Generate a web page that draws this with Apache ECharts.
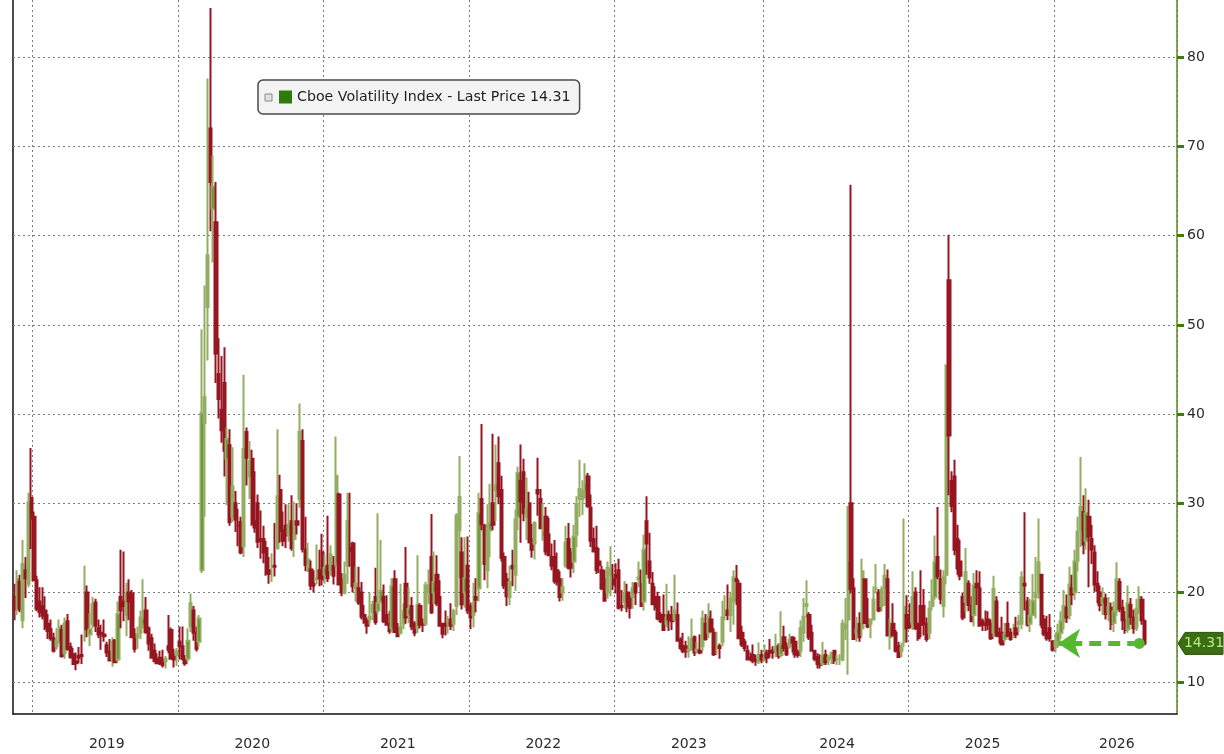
<!DOCTYPE html>
<html><head><meta charset="utf-8">
<script src="https://cdn.jsdelivr.net/npm/echarts@6/dist/echarts.min.js"></script>
<style>html,body{margin:0;padding:0;background:#fff}#c{width:1224px;height:754px}</style>
</head><body><div id="c"></div>
<script>
// ---------- data (weekly candles: [open, close, low, high]) ----------
const seriesName = 'Cboe Volatility Index - Last Price 14.31';
const lastPrice = 14.31;
const startMonday = [2018, 10, 12];   // first weekly candle (UTC y, m0, d)
const axisWeeks = 416;                // weekly slots on the category axis
const yearLabels = ['2019','2020','2021','2022','2023','2024','2025','2026'];
const yTickValues = [10,20,30,40,50,60,70,80];

const vix2018 = [[19.5,18.1,16.9,21.0],[18.3,21.5,17.5,22.5],[21.2,18.1,17.8,22.0],[16.9,23.2,16.0,25.9],[22.5,21.6,19.4,24.0],[21.0,30.1,20.6,31.2],[30.6,28.3,24.9,36.2],[28.5,21.4,21.3,29.1]];
const vix2019 = [[21.4,18.2,17.9,21.9],[19.0,17.8,17.2,20.6],[18.5,17.4,17.0,20.6],[18.0,16.1,15.8,19.6],[16.5,15.7,14.8,17.6],[15.9,14.9,14.6,17.0],[14.9,13.5,13.3,15.5],[14.0,14.6,13.6,16.0],[14.7,16.1,14.3,17.0],[15.8,12.9,12.7,16.4],[13.2,16.5,12.6,17.2],[16.8,13.7,13.5,17.6],[13.9,12.8,12.6,14.4],[13.1,12.0,11.9,13.8],[12.3,12.1,11.3,13.3],[12.9,12.7,12.1,13.9],[13.0,12.9,12.0,15.3],[16.0,16.0,14.5,23.0],[20.0,15.9,15.0,20.8],[15.3,15.9,14.0,17.7],[16.5,18.7,16.0,19.5],[18.9,16.3,15.6,19.3],[16.0,15.3,14.9,17.0],[15.5,15.4,13.6,16.4],[15.3,15.1,14.5,17.0],[14.1,13.3,12.8,14.5],[13.4,12.4,12.3,14.8],[12.6,14.5,11.7,15.0],[14.6,12.2,12.1,14.8],[12.5,17.6,12.2,19.0],[19.5,18.0,16.0,24.8],[19.0,18.5,16.8,24.6],[17.5,19.9,15.1,21.1],[20.0,19.0,16.9,21.5],[19.9,15.0,14.9,20.3],[15.3,13.7,13.3,16.0],[15.0,15.3,13.7,16.2],[15.5,17.2,14.8,18.0],[16.5,17.0,16.0,21.5],[18.0,15.6,15.4,19.5],[16.0,14.3,13.5,16.2],[14.9,12.7,12.6,15.4],[13.5,12.3,12.2,14.3],[12.5,12.1,12.0,13.2],[12.7,12.1,11.9,13.5],[12.5,11.9,11.6,13.6],[12.3,12.6,11.5,12.9],[14.0,13.6,13.2,17.5],[15.8,12.6,12.5,16.1],[13.0,12.5,11.6,13.7],[13.0,13.4,11.8,13.8],[14.5,14.0,12.5,16.2]];
const vix2020 = [[14.0,12.6,12.4,16.2],[12.5,12.1,11.8,13.0],[12.6,14.6,12.2,16.0],[16.2,18.8,15.6,19.9],[18.0,15.5,14.6,18.5],[15.5,13.7,13.4,16.2],[14.5,17.1,13.9,17.5],[22.5,40.1,22.2,49.5],[39.0,41.9,28.5,54.4],[52.0,57.8,46.0,77.6],[72.0,66.0,60.5,85.5],[63.0,65.5,57.0,69.0],[61.5,46.8,43.5,66.0],[44.5,41.7,39.5,48.5],[40.5,38.2,36.8,46.5],[43.5,35.9,33.0,47.5],[35.0,37.2,29.8,38.5],[36.5,27.9,27.5,38.3],[28.5,31.9,27.9,36.3],[30.0,28.2,26.8,31.4],[27.5,27.5,25.2,29.4],[27.9,24.5,24.3,28.5],[25.2,36.1,24.0,44.4],[38.0,35.1,32.0,38.5],[33.0,34.7,30.5,37.0],[35.0,27.7,27.5,36.0],[28.0,27.3,26.7,33.6],[30.0,25.7,25.0,31.0],[26.0,25.8,23.8,29.2],[26.0,24.5,23.3,27.5],[25.0,22.2,21.9,25.8],[22.5,22.1,21.0,24.0],[22.5,22.5,21.2,24.4],[23.0,22.9,21.8,27.8],[25.0,30.8,24.8,38.3],[31.5,26.9,25.6,33.2],[27.0,25.8,25.2,29.1],[27.5,26.4,25.0,29.9],[26.5,27.6,25.7,29.9],[28.0,25.0,24.7,30.9],[26.0,27.4,24.0,30.2],[28.0,27.6,26.5,30.0],[30.5,38.0,29.5,41.2],[37.0,24.9,24.5,38.3],[24.8,23.1,22.4,28.5],[22.5,23.7,22.3,25.6],[22.6,20.8,20.3,23.6],[21.0,20.8,20.0,22.5],[21.5,21.6,20.9,25.4],[22.5,21.6,20.7,24.8],[24.5,21.5,20.8,26.6],[22.0,22.8,21.0,24.3]];
const vix2021 = [[23.0,21.6,21.2,28.6],[22.5,24.3,21.9,25.3],[23.0,21.9,20.9,24.1],[23.5,33.1,22.9,37.5],[31.0,20.9,20.8,31.2],[21.5,20.0,19.6,22.2],[20.0,22.0,19.8,23.5],[23.0,28.0,21.0,31.2],[25.0,24.7,22.9,31.2],[25.5,20.7,20.0,25.7],[20.5,21.0,19.0,22.9],[20.5,18.9,18.6,22.9],[20.0,17.3,17.0,21.2],[17.5,16.7,16.5,18.6],[16.9,16.3,15.4,17.2],[17.0,17.3,16.4,20.0],[17.8,18.6,16.9,19.1],[19.5,16.7,16.4,22.8],[18.0,18.8,17.6,28.9],[19.0,20.2,18.8,25.9],[19.5,16.8,16.6,20.9],[17.5,16.4,16.3,19.7],[16.5,15.7,15.4,17.9],[16.0,20.7,15.5,21.6],[21.5,15.6,15.5,22.5],[16.0,15.1,15.0,16.6],[15.5,16.2,15.3,21.0],[16.5,17.9,15.9,18.8],[21.0,17.2,16.5,25.1],[17.5,18.2,16.6,20.6],[18.5,16.2,15.8,19.5],[16.5,15.5,15.1,16.8],[16.0,18.6,15.5,24.2],[18.5,16.4,16.0,18.8],[16.5,16.4,15.6,17.1],[16.5,20.8,16.3,21.2],[20.0,20.8,18.7,22.6],[24.0,17.8,17.6,28.8],[20.0,21.2,18.7,24.6],[22.0,18.8,18.5,24.2],[19.5,16.3,16.2,21.4],[16.5,15.4,14.9,16.5],[16.5,16.3,15.2,18.0],[16.5,16.5,15.4,17.4],[17.0,16.3,15.8,18.8],[16.5,17.9,15.7,18.2],[18.5,28.6,17.5,28.9],[27.0,30.7,21.6,35.3],[24.5,18.7,18.1,26.2],[20.0,21.6,18.3,26.2],[23.0,18.0,17.6,26.3],[18.5,17.2,15.9,18.9]];
const vix2022 = [[17.5,18.8,16.1,21.1],[19.5,19.2,17.8,21.6],[20.5,28.9,19.0,31.2],[30.5,27.7,27.0,38.9],[27.5,23.2,21.4,27.7],[22.5,27.4,20.5,29.9],[27.0,27.8,24.0,32.2],[30.0,27.6,27.0,37.8],[31.5,32.0,28.0,36.6],[34.5,30.8,29.9,37.5],[31.5,23.9,23.5,33.1],[24.0,20.8,20.4,24.5],[21.5,19.6,18.5,22.2],[19.5,21.2,18.6,23.0],[23.0,22.7,20.7,24.8],[22.0,28.2,20.2,29.3],[28.5,33.4,27.0,34.1],[32.5,30.2,25.6,36.6],[33.5,28.9,28.0,35.0],[28.5,29.4,25.9,32.9],[30.0,25.7,25.5,31.3],[26.0,24.8,23.9,27.7],[25.5,27.8,23.7,28.0],[31.5,31.1,28.6,35.1],[30.5,27.2,27.1,31.6],[26.5,26.7,25.8,30.0],[28.5,24.6,24.2,29.6],[26.5,24.2,24.1,28.4],[24.0,23.0,22.5,25.5],[24.0,21.3,21.0,25.9],[22.5,21.2,20.8,24.5],[21.5,19.5,19.0,22.4],[20.0,20.6,19.1,21.6],[23.0,25.6,22.8,27.5],[26.0,22.8,22.6,27.8],[24.5,22.8,21.7,25.0],[23.5,26.3,22.2,27.6],[26.5,29.9,25.1,30.8],[30.5,31.6,28.5,34.9],[30.5,31.4,28.7,32.6],[31.5,32.0,30.6,34.5],[33.0,29.7,29.5,33.4],[29.5,25.8,25.1,31.0],[26.0,24.6,24.5,27.3],[25.0,22.5,22.1,27.5],[23.5,23.1,22.2,25.0],[22.5,20.5,20.3,23.0],[21.5,19.1,19.1,22.5],[20.0,22.8,19.3,23.5],[22.0,22.6,19.6,25.2],[21.5,20.9,20.3,23.2],[22.0,21.7,19.9,23.3]];
const vix2023 = [[22.5,18.3,18.1,23.8],[18.5,18.4,17.9,20.3],[19.0,19.9,18.2,21.3],[20.0,18.5,17.8,21.0],[19.5,18.3,17.1,20.1],[19.5,20.5,18.2,21.2],[21.0,20.0,18.6,21.2],[21.5,21.7,20.6,23.5],[21.0,18.5,18.4,22.6],[19.0,24.8,18.0,26.5],[28.0,25.5,22.0,30.8],[23.5,21.7,21.0,26.7],[21.0,18.7,18.6,22.3],[19.5,18.4,18.0,20.7],[19.5,17.1,16.9,20.1],[17.5,16.8,16.6,17.8],[17.5,15.8,15.7,19.8],[16.5,17.2,16.1,21.0],[17.5,17.0,15.7,18.0],[17.5,16.8,15.8,18.5],[17.0,18.0,16.8,22.0],[17.5,14.6,14.5,18.9],[14.7,13.8,13.6,15.0],[14.0,13.5,13.2,15.5],[14.0,13.4,12.7,14.6],[13.5,13.6,12.7,15.1],[13.7,14.8,13.5,17.1],[15.0,13.3,12.9,15.2],[13.5,13.6,13.2,14.5],[13.5,13.3,13.1,15.3],[14.0,17.1,13.5,18.0],[16.5,14.8,14.6,17.6],[15.5,17.3,14.9,18.8],[17.0,15.7,15.5,18.0],[15.5,13.1,12.9,16.0],[13.8,13.8,13.1,15.6],[14.0,13.8,12.6,14.3],[14.5,17.2,14.0,19.1],[17.5,17.5,16.9,19.7],[18.0,17.5,16.9,20.9],[17.5,19.3,15.6,20.1],[19.0,21.7,16.4,22.5],[21.5,21.3,18.6,23.1],[21.0,14.9,14.8,21.4],[15.5,14.2,13.9,16.3],[14.5,13.8,13.4,14.8],[13.5,12.5,12.4,14.1],[12.7,12.6,12.3,13.3],[13.0,12.4,12.1,14.2],[12.5,12.3,11.8,13.0],[12.3,13.0,12.0,14.4],[13.0,12.5,12.1,13.6]];
const vix2024 = [[12.5,12.7,12.3,14.2],[13.2,12.7,12.1,13.6],[13.5,13.3,12.7,14.8],[13.5,13.3,12.6,14.0],[13.5,13.9,12.8,15.4],[14.0,12.9,12.6,14.3],[13.0,14.2,12.7,17.9],[15.0,13.8,13.4,16.3],[14.0,13.1,12.9,14.4],[14.0,14.7,13.7,15.4],[15.0,14.4,13.3,15.0],[14.5,13.1,12.7,15.0],[13.5,13.0,12.7,13.6],[13.5,16.0,12.8,16.9],[15.5,17.3,14.5,19.4],[18.5,18.7,17.2,21.4],[17.5,15.0,14.7,17.8],[15.5,13.5,13.4,16.4],[13.5,12.6,12.3,13.5],[12.8,12.0,11.5,13.2],[12.0,11.9,11.5,13.1],[12.0,12.9,11.8,14.5],[13.0,12.2,11.9,13.6],[12.5,12.7,11.9,13.0],[12.7,13.2,12.0,13.4],[13.5,12.4,12.0,13.6],[12.5,12.5,11.9,13.0],[12.5,12.5,11.9,13.1],[12.5,16.5,12.3,17.0],[16.0,16.4,14.7,19.4],[17.0,23.4,10.8,29.7],[30.0,20.4,19.9,65.7],[20.5,14.8,14.7,21.6],[15.5,15.9,14.5,17.3],[16.5,15.0,14.5,17.8],[16.0,22.4,15.1,23.8],[21.5,16.6,16.5,21.4],[17.0,16.2,16.0,19.4],[16.5,17.0,14.9,17.1],[17.0,19.2,16.9,20.7],[20.5,20.5,19.9,23.2],[20.0,18.0,17.8,20.4],[18.5,20.3,17.9,20.7],[20.5,21.9,18.5,23.2],[21.5,15.2,15.1,22.6],[15.0,16.1,13.6,17.1],[16.5,15.2,15.2,18.8],[15.5,13.5,13.3,15.8],[14.0,12.8,12.7,14.5],[13.5,13.8,12.8,14.4],[14.5,18.4,13.9,28.3],[17.5,16.0,14.4,19.7],[16.5,16.1,16.0,18.8]];
const vix2025 = [[16.5,19.5,15.8,22.4],[20.0,16.0,15.8,20.6],[16.5,14.9,14.6,16.6],[18.5,16.4,15.0,22.5],[18.5,16.5,15.2,20.4],[16.5,14.8,14.5,17.2],[15.5,18.2,14.8,19.1],[18.5,19.6,18.0,21.5],[19.5,23.4,19.2,26.4],[24.0,21.8,21.5,29.6],[21.5,19.3,18.7,22.6],[18.5,21.7,17.2,22.5],[22.0,45.3,20.9,45.6],[55.0,37.6,30.9,60.1],[32.5,29.7,29.0,33.6],[33.0,24.8,24.2,34.9],[26.0,22.7,22.0,27.6],[23.5,21.9,21.4,25.9],[19.5,17.2,16.9,20.0],[19.0,22.3,17.8,25.0],[21.0,18.6,17.9,21.4],[18.5,16.8,16.7,19.6],[17.5,20.8,16.2,22.2],[21.0,20.6,18.6,22.5],[20.5,16.3,16.2,22.4],[16.8,16.4,15.7,17.1],[16.5,16.4,15.7,18.0],[17.0,16.4,15.8,17.9],[16.5,14.9,14.7,17.0],[15.5,20.4,15.0,21.9],[19.0,15.2,15.0,19.6],[15.5,15.1,14.3,16.1],[15.5,14.2,14.1,17.3],[14.8,15.4,14.4,16.6],[16.5,15.2,15.0,19.0],[15.5,14.8,14.6,16.0],[15.5,15.5,14.9,16.5],[16.0,15.3,14.9,17.3],[16.5,16.7,15.6,17.5],[16.5,21.7,15.9,22.4],[21.0,20.8,18.0,29.0],[19.0,16.4,16.2,19.5],[16.5,17.4,15.6,19.3],[17.5,19.1,17.4,22.1],[19.5,19.8,17.1,24.0],[20.0,23.4,19.3,28.3],[22.0,16.4,16.0,22.0],[17.0,15.4,15.1,17.5],[15.5,14.9,14.6,17.4],[16.0,14.9,14.5,17.6],[14.5,13.6,13.4,14.7],[14.0,14.5,13.3,15.5]];
const vix2026 = [[14.5,15.5,13.8,16.5],[15.5,16.8,14.8,17.9],[16.8,18.5,15.9,20.3],[18.3,17.2,16.6,19.8],[17.5,20.9,17.0,22.9],[20.5,19.8,18.6,22.0],[20.0,23.5,19.2,24.8],[23.6,26.8,22.4,28.5],[27.0,29.6,25.1,35.2],[29.0,25.4,24.3,30.9],[25.8,28.9,24.8,31.7],[28.5,26.3,20.6,30.4],[26.0,24.8,23.2,27.6],[24.5,20.9,20.1,25.3],[21.0,20.2,18.8,22.4],[20.0,18.6,17.9,20.8],[18.8,19.4,17.5,20.6],[19.3,17.6,17.0,19.9],[17.7,18.4,16.8,19.5],[18.3,16.5,15.8,18.9],[16.6,17.9,15.6,19.0],[18.0,21.5,17.4,23.4],[21.2,18.2,17.8,21.6],[18.3,16.9,15.8,19.2],[17.0,15.8,15.4,17.9],[15.9,18.8,15.5,20.8],[18.6,17.3,16.4,19.4],[17.2,16.0,15.4,18.1],[16.1,18.2,15.7,19.3],[18.3,19.5,17.6,20.7],[19.2,16.9,16.4,19.6],[16.8,14.31,14.1,17.0]];

// ---------- build ----------
const ohlc = [].concat(vix2018, vix2019, vix2020, vix2021, vix2022, vix2023, vix2024, vix2025, vix2026);
const DAY = 864e5;
const t0 = Date.UTC(startMonday[0], startMonday[1], startMonday[2]);
const dates = [], yearStart = new Set(), quarterStart = new Set();
const pad = n => (n < 10 ? '0' : '') + n;
for (let i = 0; i < axisWeeks; i++) {
  const d = new Date(t0 + i * 7 * DAY);
  dates.push(d.getUTCFullYear() + '-' + pad(d.getUTCMonth() + 1) + '-' + pad(d.getUTCDate()));
  const prev = new Date(t0 + (i * 7 - 1) * DAY), end = new Date(t0 + (i * 7 + 6) * DAY);
  if (end.getUTCFullYear() !== prev.getUTCFullYear()) yearStart.add(i);
  else if (end.getUTCMonth() !== prev.getUTCMonth() && [3, 6, 9].includes(end.getUTCMonth())) quarterStart.add(i);
}
const starts = Array.from(yearStart).sort((a, b) => a - b);
const labelAt = {};
starts.forEach((s, k) => {
  const e = k + 1 < starts.length ? starts[k + 1] : axisWeeks;
  const yr = String(new Date(t0 + (s * 7 + 6) * DAY).getUTCFullYear());
  if (yearLabels.includes(yr)) labelAt[Math.floor((s + e) / 2)] = yr;
});
const lastIdx = ohlc.length - 1;
const arrowTipIdx = starts[starts.length - 1] + 1;

const FONT = 'DejaVu Sans';
const chart = echarts.init(document.getElementById('c'), null, { renderer: 'canvas' });
const gridRight = 47;
chart.setOption({
  animation: false,
  backgroundColor: '#ffffff',
  grid: { left: 13, right: gridRight, top: 0, bottom: 40 },
  legend: {
    left: 258, top: 80,
    padding: [10, 9, 10, 21],
    itemWidth: 13, itemHeight: 13,
    backgroundColor: '#f3f3f3', borderColor: '#4a4a4a', borderWidth: 1.5, borderRadius: 5,
    textStyle: { fontFamily: FONT, fontSize: 14.2, color: '#1e1e1e' },
    selectedMode: false,
    data: [{ name: seriesName, icon: 'rect', itemStyle: { color: '#2f7a0c', borderWidth: 0 } }]
  },
  xAxis: [{
    type: 'category', data: dates, position: 'bottom', boundaryGap: true,
    axisLine: { lineStyle: { color: '#111', width: 1.5 } },
    axisTick: { interval: i => yearStart.has(i), length: 40, lineStyle: { color: '#8a8a8a', width: 1 } },
    axisLabel: { interval: i => labelAt[i] !== undefined, formatter: (v, i) => labelAt[i] || '',
      margin: 23, fontFamily: FONT, fontSize: 14, color: '#2a2a2a' },
    splitLine: { show: true, interval: i => yearStart.has(i), lineStyle: { color: '#7c7c7c', width: 1, type: [2, 3] } }
  }, {
    type: 'category', data: dates, position: 'bottom', boundaryGap: true,
    axisLine: { show: false },
    axisTick: { interval: i => quarterStart.has(i), length: 7, lineStyle: { color: '#9a9a9a', width: 1 } },
    axisLabel: { show: false }, splitLine: { show: false }
  }],
  yAxis: [{
    type: 'value', position: 'right', min: 6.4, max: 86.4,
    axisLine: { show: true, lineStyle: { color: '#5d8a1c', width: 1.5 } },
    axisTick: { show: true, customValues: yTickValues, length: 7, lineStyle: { color: '#3f7a0c', width: 3 } },
    axisLabel: { customValues: yTickValues, margin: 10, fontFamily: FONT, fontSize: 14, color: '#2a2a2a',
      formatter: v => (v % 10 === 0 ? String(v) : '') },
    splitLine: { show: false }
  }, {
    type: 'value', position: 'left', min: 0, max: 1,
    axisLine: { show: true, lineStyle: { color: '#111', width: 1.5 } },
    axisTick: { show: false }, axisLabel: { show: false }, splitLine: { show: false }
  }],
  series: [{
    type: 'line', data: [], xAxisIndex: 0, yAxisIndex: 0, silent: true, z: 1,
    markLine: { silent: true, z: 1, symbol: ['none', 'none'], label: { show: false },
      lineStyle: { color: '#7c7c7c', width: 1, type: [2, 3] },
      data: yTickValues.map(v => ({ yAxis: v })) }
  }, {
    name: seriesName, type: 'candlestick', data: ohlc, xAxisIndex: 0, yAxisIndex: 0, z: 3,
    barWidth: '100%',
    itemStyle: { color: '#4f8418', color0: '#a3141e', borderColor: '#93ad62', borderColor0: '#951620', borderWidth: 2 },
    markLine: {
      silent: true, z: 6, animation: false, label: { show: false },
      lineStyle: { color: '#55b830', width: 5, type: [12, 7] },
      data: [[
        { coord: [dates[lastIdx - 2], lastPrice], symbol: 'circle', symbolSize: 11 },
        { coord: [dates[arrowTipIdx], lastPrice], symbol: 'arrow', symbolSize: [22, 22] }
      ]]
    }
  }]
});

const yPix = chart.convertToPixel({ yAxisIndex: 0 }, lastPrice);
const ax = 1224 - gridRight;
chart.setOption({
  graphic: [
    { type: 'rect', z: 100, shape: { x: 265, y: 94, width: 7, height: 7 },
      style: { fill: '#e0e0e0', stroke: '#8c8c8c', lineWidth: 1 } },
    { type: 'polygon', z: 100,
      shape: { points: [[ax + 1, yPix], [ax + 8, yPix - 11], [1223, yPix - 11], [1223, yPix + 11], [ax + 8, yPix + 11]] },
      style: { fill: '#3b6e12', stroke: '#2b520b', lineWidth: 1 } },
    { type: 'text', z: 101, x: (ax + 8 + 1223) / 2, y: yPix,
      style: { text: lastPrice.toFixed(2), fill: '#b9ea82', font: '14px "DejaVu Sans"', textAlign: 'center', textVerticalAlign: 'middle' } }
  ]
});
</script></body></html>
